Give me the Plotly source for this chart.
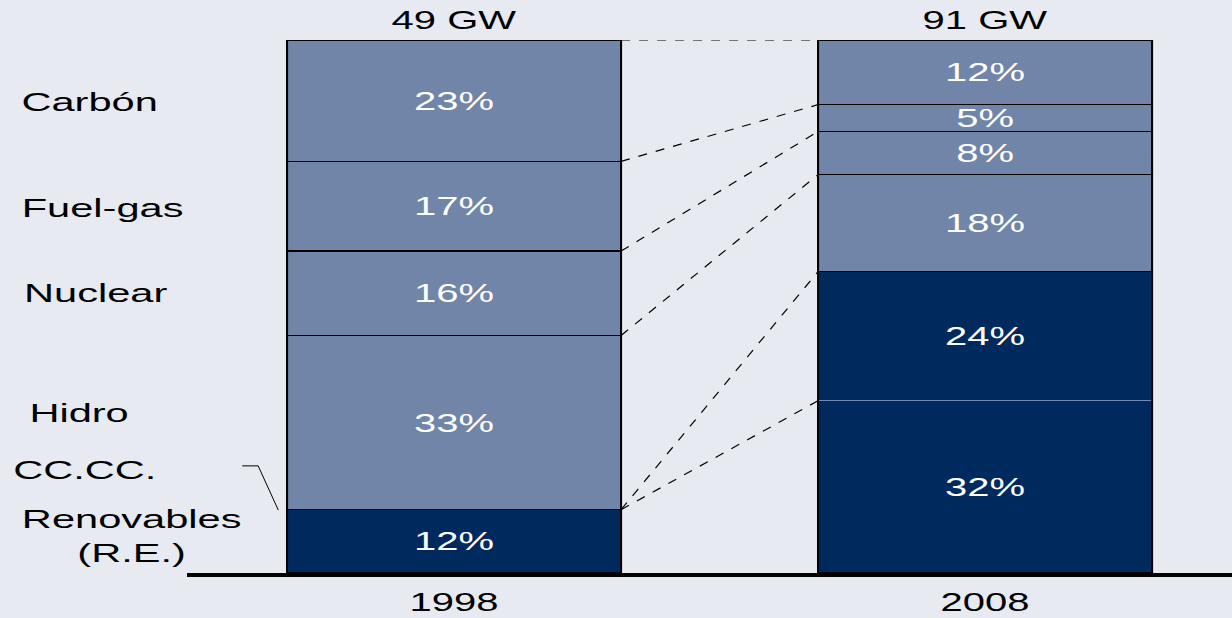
import plotly.graph_objects as go

years = ["1998", "2008"]
totals = ["49 GW", "91 GW"]
categories = ["Renovables<br>(R.E.)", "CC.CC.", "Hidro", "Nuclear", "Fuel-gas", "Carbón"]
values_1998 = [12, 0, 33, 16, 17, 23]
values_2008 = [32, 24, 18, 8, 5, 12]

LIGHT = "#7085A7"
DARK = "#002A5E"
BG = "#E7EAF0"
FONT = "Liberation Sans"
FS = 25
FS_LABEL = 26
STRETCH = 1.6

fill_colors = [DARK, DARK, LIGHT, LIGHT, LIGHT, LIGHT]
line_colors = ["black", "#6F8BBA", "black", "black", "black", "black"]

xpos = [0, 1]
W = 0.629
L_MARGIN, PLOT_W, PLOT_TOP, PLOT_H = 187, 1045, 40, 533


def px_to_paper(px, py):
    return (px - L_MARGIN) / PLOT_W, (PLOT_TOP + PLOT_H - py) / PLOT_H


fig = go.Figure()
for i, cat in enumerate(categories):
    vals = [values_1998[i], values_2008[i]]
    fig.add_trace(go.Bar(
        x=xpos, y=vals, width=W, name=cat,
        marker=dict(color=fill_colors[i], line=dict(color=line_colors[i], width=1.5)),
        text=[f"{v}%" if v else "" for v in vals],
        textposition="inside", insidetextanchor="middle", textangle=0,
        constraintext="none",
        textfont=dict(family=FONT, size=FS, color="white"),
        showlegend=False, hoverinfo="skip",
    ))


def cum(vals):
    s = sum(vals)
    out, c = [], 0
    for v in vals:
        c += v * 100.0 / s
        out.append(c)
    return out


c98 = cum(values_1998)
c08 = cum(values_2008)
shapes = []
for a, b in zip(c98, c08):
    shapes.append(dict(type="line", xref="x", yref="y", x0=xpos[0] + W / 2, x1=xpos[1] - W / 2,
                       y0=a, y1=b, line=dict(color="black", width=1.2, dash="dash"), layer="above"))
for xp in xpos:
    shapes.append(dict(type="rect", xref="x", yref="y", x0=xp - W / 2, x1=xp + W / 2, y0=0, y1=100,
                       line=dict(color="black", width=2), fillcolor="rgba(0,0,0,0)", layer="above"))
# pointer for CC.CC.
shapes.append(dict(type="path", xref="x", yref="y",
                   path="M -0.399 20.1 L -0.369 20.1 L -0.331 11.8",
                   line=dict(color="black", width=1)))

annotations = []
for xp, t in zip(xpos, totals):
    annotations.append(dict(x=xp, y=1.0, xref="x", yref="paper", yanchor="middle", yshift=20,
                            text=t, showarrow=False,
                            font=dict(family=FONT, size=FS, color="black")))

# label centres in pixels (reference layout)
label_px = [(131, 536), (84.5, 470), (79, 413), (96, 293), (102.5, 208), (89.5, 102)]
for cat, (px, py) in zip(categories, label_px):
    ax, ay = px_to_paper(px, py)
    annotations.append(dict(x=ax, y=ay, xref="paper", yref="paper", text=cat, showarrow=False,
                            xanchor="center", yanchor="middle", align="center",
                            font=dict(family=FONT, size=FS_LABEL, color="black")))

fig.update_layout(
    barmode="stack", barnorm="percent",
    width=1232, height=618,
    margin=dict(l=L_MARGIN, r=0, t=PLOT_TOP, b=618 - PLOT_TOP - PLOT_H),
    paper_bgcolor=BG, plot_bgcolor=BG,
    shapes=shapes, annotations=annotations,
    xaxis=dict(range=[-0.503, 1.465], tickvals=xpos, ticktext=years, showgrid=False, zeroline=False,
               showline=True, linecolor="black", linewidth=4, ticks="", ticklabelstandoff=4,
               tickfont=dict(family=FONT, size=FS, color="black")),
    yaxis=dict(range=[0, 100], visible=False, showgrid=False),
)

post = """
document.body.style.margin = '0';
var gd = document.getElementById('{plot_id}');
gd.querySelectorAll('text').forEach(function(t) {
  if (!t.textContent) return;
  var b = t.getBBox();
  var cx = b.x + b.width / 2;
  var tr = t.getAttribute('transform') || '';
  t.setAttribute('transform', tr + ' translate(' + cx + ',0) scale(%s,1) translate(' + (-cx) + ',0)');
});
""" % STRETCH

fig.write_html("out.html", post_script=post, config={"displayModeBar": False})
